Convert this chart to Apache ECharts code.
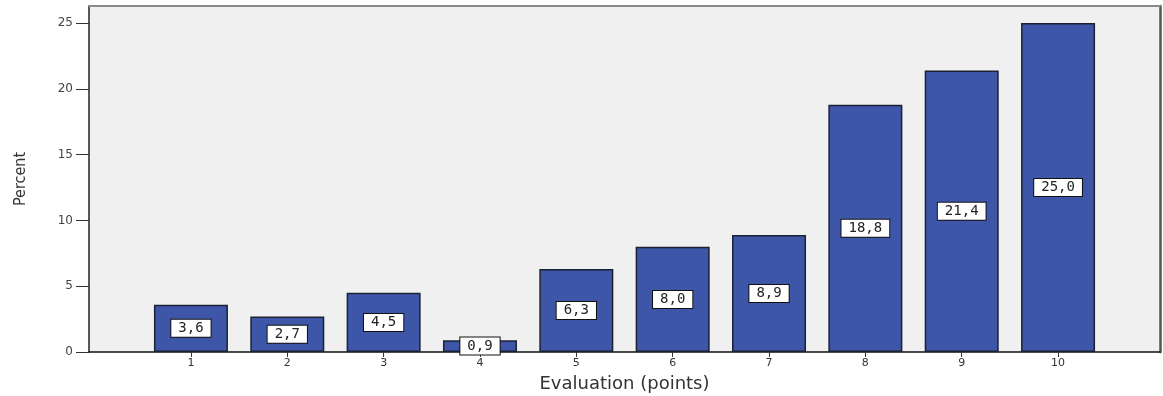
<!DOCTYPE html>
<html>
<head>
<meta charset="utf-8">
<script src="https://cdn.jsdelivr.net/npm/echarts@6/dist/echarts.min.js"></script>
<style>
  html, body { margin: 0; padding: 0; background: #ffffff; }
  #chart { width: 1163px; height: 396px; }
</style>
</head>
<body>
<div id="chart"></div>
<script>
// Share of respondents per evaluation score
const scores = [1, 2, 3, 4, 5, 6, 7, 8, 9, 10];
const percents = [3.6, 2.7, 4.5, 0.9, 6.3, 8.0, 8.9, 18.8, 21.4, 25.0];
const yTicks = [0, 5, 10, 15, 20, 25];

const chart = echarts.init(document.getElementById('chart'));

const frameX = { min: -0.058, max: 11.058 };

chart.setOption({
  animation: false,
  grid: {
    left: 89, right: 3, top: 6, bottom: 44,
    outerBoundsMode: 'none',
    containLabel: false,
    show: true, backgroundColor: '#f0f0f0', borderWidth: 0
  },
  xAxis: [{
    type: 'value',
    min: frameX.min, max: frameX.max,
    name: 'Evaluation (points)',
    nameLocation: 'middle',
    nameGap: 23,
    nameTextStyle: { fontFamily: 'DejaVu Sans', fontSize: 18, color: '#333' },
    splitLine: { show: false },
    axisLine: { show: true, onZero: false, lineStyle: { color: '#111', width: 1.5 } },
    axisTick: { show: true, customValues: scores, length: 5, lineStyle: { color: '#333' } },
    axisLabel: {
      customValues: scores, margin: 6,
      fontFamily: 'DejaVu Sans', fontSize: 11, color: '#333'
    }
  }, {
    type: 'value', position: 'top',
    min: frameX.min, max: frameX.max,
    splitLine: { show: false },
    axisLine: { show: true, onZero: false, lineStyle: { color: '#8a8a8a', width: 2 } },
    axisTick: { show: false }, axisLabel: { show: false }
  }],
  yAxis: [{
    type: 'value',
    min: 0, max: 26.3, interval: 5,
    name: 'Percent',
    nameLocation: 'middle',
    nameGap: 60,
    nameRotate: 90,
    nameTextStyle: { fontFamily: 'Liberation Sans Narrow, DejaVu Sans Condensed, sans-serif', fontSize: 16, color: '#333' },
    splitLine: { show: false },
    axisLine: { show: true, onZero: false, lineStyle: { color: '#222', width: 1.5 } },
    axisTick: { show: true, customValues: yTicks, length: 13, lineStyle: { color: '#333' } },
    axisLabel: {
      margin: 16,
      customValues: yTicks,
      fontFamily: 'DejaVu Sans', fontSize: 12, color: '#444'
    }
  }, {
    type: 'value', position: 'right',
    min: 0, max: 26.3,
    splitLine: { show: false },
    axisLine: { show: true, onZero: false, lineStyle: { color: '#555', width: 2.5 } },
    axisTick: { show: false }, axisLabel: { show: false }
  }],
  series: [{
    type: 'bar',
    xAxisIndex: 0, yAxisIndex: 0,
    barWidth: 74,
    data: scores.map((s, i) => [s, percents[i]]),
    itemStyle: { color: '#3d56a8', borderColor: '#1c2033', borderWidth: 1.5 },
    label: {
      show: true,
      position: 'inside',
      formatter: p => p.value[1].toFixed(1).replace('.', ','),
      fontFamily: 'DejaVu Sans Mono',
      fontSize: 14,
      color: '#222',
      backgroundColor: '#ffffff',
      borderColor: '#111',
      borderWidth: 1,
      padding: [2, 7, 1, 7]
    }
  }]
});
</script>
</body>
</html>
